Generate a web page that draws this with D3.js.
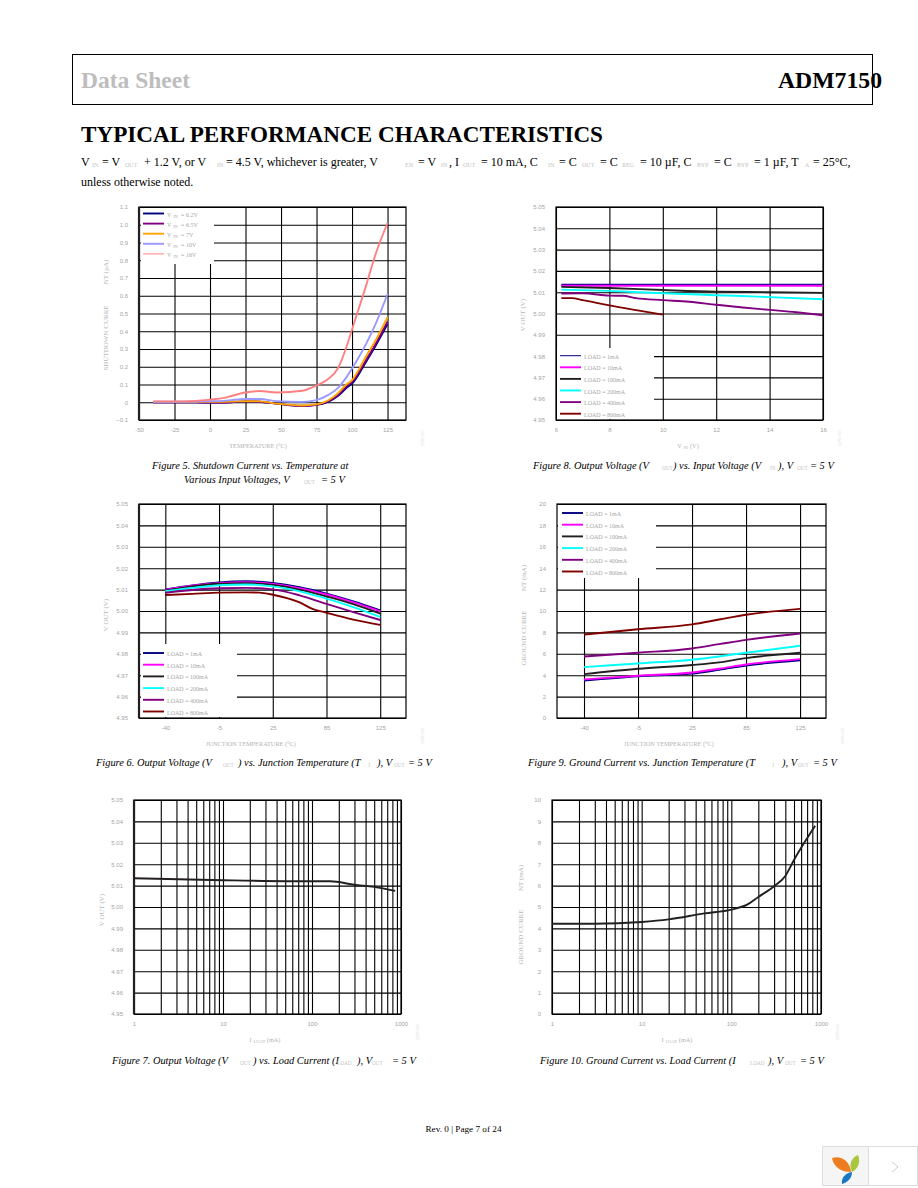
<!DOCTYPE html>
<html>
<head>
<meta charset="utf-8">
<title>ADM7150 Typical Performance Characteristics</title>
<script src="https://cdn.jsdelivr.net/npm/d3@7"></script>
<style>
  html, body { margin: 0; padding: 0; background: #fff; }
  svg { display: block; font-family: "Liberation Serif", serif; }
  .tick text { fill: #a4a4a4; font-size: 6px; }
  .axis-title { fill: #b4b4b4; font-size: 6.3px; }
  .axis-title.vertical { font-size: 7px; }
  .legend-text { fill: #a6a6a6; font-size: 6px; }
  .faint { fill: #c8c8c8; font-size: 5px; }
</style>
</head>
<body>
<svg id="page" width="918" height="1188"></svg>
<script>
// figure 5 - shutdown current vs temperature
var shutdownLabels = ['VIN = 6.2V', 'VIN = 6.5V', 'VIN = 7V', 'VIN = 10V', 'VIN = 16V'];
var shutdownTicksX = [-50, -25, 0, 25, 50, 75, 100, 125];
var shutdownTicksY = [-0.1, 0, 0.1, 0.2, 0.3, 0.4, 0.5, 0.6, 0.7, 0.8, 0.9, 1.0, 1.1];
var shutdownTemp = [-40, -25, -10, 0, 10, 15, 25, 35, 47, 65, 75, 83, 90, 96, 100, 110, 116, 125];
var shutdown62 = [0, 0, 0, -0.002, -0.002, 0, 0.005, 0.003, -0.008, -0.02, -0.015, 0.002, 0.035, 0.08, 0.105, 0.23, 0.31, 0.44];
var shutdown65 = [0, 0, 0, -0.002, -0.002, 0, 0.005, 0.003, -0.008, -0.022, -0.015, 0.005, 0.04, 0.09, 0.115, 0.24, 0.32, 0.455];
var shutdown7 = [0.002, 0.002, 0.002, 0.003, 0.003, 0.004, 0.006, 0.005, -0.008, -0.018, -0.012, 0.01, 0.05, 0.1, 0.125, 0.26, 0.34, 0.48];
var shutdown10 = [0.003, 0.003, 0.004, 0.006, 0.008, 0.012, 0.018, 0.018, 0.006, 0.002, 0.012, 0.04, 0.08, 0.14, 0.19, 0.33, 0.43, 0.61];
var shutdown16 = [0.005, 0.005, 0.008, 0.015, 0.025, 0.035, 0.055, 0.063, 0.055, 0.065, 0.095, 0.13, 0.19, 0.31, 0.41, 0.66, 0.82, 1.01];

// shared load legend and output voltage ticks
var loadLabels = ['LOAD = 1mA', 'LOAD = 10mA', 'LOAD = 100mA', 'LOAD = 200mA', 'LOAD = 400mA', 'LOAD = 800mA'];
var voutTicks = [4.95, 4.96, 4.97, 4.98, 4.99, 5.00, 5.01, 5.02, 5.03, 5.04, 5.05];

// figure 8 - output voltage vs input voltage
var vinTicks = [6, 8, 10, 12, 14, 16];
var vinSteps = [6.2, 8, 10, 12, 14, 16];
var vinDense = [6.2, 7, 8, 8.5, 9, 10, 11, 12, 13, 14, 15, 16];
var vinShort = [6.2, 6.6, 7, 8, 9, 10];
var voutVin1 = [5.0135, 5.0135, 5.0135, 5.0135, 5.0135, 5.0135];
var voutVin10 = [5.013, 5.013, 5.013, 5.013, 5.013, 5.013];
var voutVin100 = [5.0125, 5.012, 5.011, 5.0102, 5.01, 5.0097];
var voutVin200 = [5.0112, 5.0106, 5.0095, 5.0086, 5.0077, 5.0067];
var voutVin400 = [5.0094, 5.0095, 5.0084, 5.0083, 5.0072, 5.0063, 5.0055, 5.0041, 5.0028, 5.0017, 5.0006, 4.9992];
var voutVin800 = [5.0072, 5.0072, 5.0063, 5.0038, 5.0016, 4.9995];

// figure 6 - output voltage vs junction temperature
var junctionTicks = ['-40', '-5', '25', '85', '125'];
var junctionPos = [0, 0.5, 1, 1.5, 2, 2.5, 3, 3.5, 4];
var junctionPosRed = [0, 0.5, 1, 1.5, 1.75, 2, 2.5, 2.75, 3, 3.5, 4];
var voutTemp1 = [5.0101, 5.012, 5.0134, 5.0139, 5.0131, 5.0111, 5.0081, 5.0045, 5.0003];
var voutTemp10 = [5.0098, 5.0118, 5.013, 5.0134, 5.0127, 5.0107, 5.0077, 5.004, 4.9998];
var voutTemp100 = [5.0095, 5.0115, 5.0127, 5.013, 5.0122, 5.01, 5.0068, 5.0032, 4.9988];
var voutTemp200 = [5.0092, 5.0108, 5.012, 5.0124, 5.0115, 5.0092, 5.0058, 5.0018, 4.9972];
var voutTemp400 = [5.0085, 5.0098, 5.0106, 5.0108, 5.0101, 5.0073, 5.0033, 4.9995, 4.9958];
var voutTemp800 = [5.0075, 5.008, 5.0086, 5.0087, 5.0086, 5.0076, 5.004, 5.0009, 4.9992, 4.996, 4.9935];

// figure 9 - ground current vs junction temperature
var groundTicks = [0, 2, 4, 6, 8, 10, 12, 14, 16, 18, 20];
var junctionMain = [0, 1, 2, 2.5, 3, 4];
var groundTemp1 = [3.5, 3.9, 4.15, 4.5, 4.9, 5.4];
var groundTemp10 = [3.6, 3.95, 4.25, 4.6, 5.0, 5.5];
var groundTemp100 = [4.1, 4.6, 4.95, 5.2, 5.6, 6.1];
var groundTemp200 = [4.75, 5.1, 5.45, 5.75, 6.1, 6.75];
var groundTemp400 = [5.75, 6.1, 6.5, 6.9, 7.3, 7.9];
var groundTemp800 = [7.8, 8.3, 8.75, 9.2, 9.65, 10.2];

// figures 7 and 10 - load current sweeps
var loadTicks = [1, 10, 100, 1000];
var loadCurrent7 = [1, 10, 100, 160, 300, 500, 860];
var voutLoad = [5.0134, 5.0125, 5.012, 5.012, 5.0104, 5.0094, 5.0075];
var loadCurrent10 = [1, 3, 10, 20, 50, 100, 150, 200, 300, 400, 500, 650, 860];
var groundLoad = [4.22, 4.22, 4.3, 4.42, 4.7, 4.88, 5.11, 5.47, 5.97, 6.45, 7.2, 8.0, 8.8];
var groundLoadTicks = [0, 1, 2, 3, 4, 5, 6, 7, 8, 9, 10];

var navy = '#000080', magenta = '#ff00ff', black = '#231f20', cyan = '#00ffff', purple = '#800080', maroon = '#800000';

var svg = d3.select('#page');

function zipXY(xs, ys) {
    return xs.map(function(x, i) { return [x, ys[i]]; });
}

function drawPanel(opt) {
    var g = svg.append('g');
    var w = opt.right - opt.left, h = opt.bottom - opt.top;
    var x = opt.x.range([opt.left, opt.right]);
    var y = d3.scaleLinear().domain(opt.yDomain).range([opt.bottom, opt.top]);

    var xAxis = d3.axisBottom(x).tickValues(opt.xTicks).tickFormat(opt.xFormat)
        .tickSize(-h).tickPadding(8);
    var yAxis = d3.axisLeft(y).tickValues(opt.yTicks).tickFormat(opt.yFormat)
        .tickSize(-w).tickPadding(11);

    g.append('g').attr('transform', 'translate(0,' + opt.bottom + ')').call(xAxis)
        .call(function(a) { a.select('.domain').remove(); });
    g.append('g').attr('transform', 'translate(' + opt.left + ',0)').call(yAxis)
        .call(function(a) { a.select('.domain').remove(); });
    g.selectAll('.tick line').attr('stroke', '#000').attr('stroke-width', 1.1);

    // frame
    g.append('rect').attr('x', opt.left).attr('y', opt.top).attr('width', w).attr('height', h)
        .attr('fill', 'none').attr('stroke', '#000').attr('stroke-width', 1.2);
    if (opt.thickLeft) {
        g.append('line').attr('x1', opt.left).attr('x2', opt.left).attr('y1', opt.top).attr('y2', opt.bottom)
            .attr('stroke', '#231f20').attr('stroke-width', 2.2);
    }

    var line = d3.line().x(function(d) { return x(d[0]); }).y(function(d) { return y(d[1]); })
        .curve(d3.curveMonotoneX);
    g.selectAll('path.series').data(opt.series).enter().append('path')
        .attr('class', 'series')
        .attr('fill', 'none')
        .attr('stroke', function(d) { return d.color; })
        .attr('stroke-width', 1.9)
        .attr('stroke-linejoin', 'round')
        .attr('d', function(d) { return line(zipXY(d.xs, d.ys)); });

    if (opt.legend) {
        var lg = opt.legend;
        g.append('rect').attr('x', lg.x0).attr('y', lg.y0).attr('width', lg.x1 - lg.x0).attr('height', lg.y1 - lg.y0)
            .attr('fill', '#fff');
        var rows = g.selectAll('g.row').data(opt.legendLabels).enter().append('g').attr('class', 'row')
            .attr('transform', function(d, i) { return 'translate(' + lg.lineX + ',' + (lg.firstY + i * lg.stepY) + ')'; });
        rows.append('line').attr('x1', 0).attr('x2', 21)
            .attr('stroke', function(d, i) { return opt.series[i].color; })
            .attr('stroke-width', function(d, i) { return lg.thin && lg.thin.indexOf(i) >= 0 ? 1 : 1.9; });
        rows.append('text').attr('class', 'legend-text').attr('x', 24).attr('y', 3)
            .each(function(d) {
                var t = d3.select(this);
                if (d.indexOf('VIN') === 0) {
                    t.append('tspan').text('V');
                    t.append('tspan').attr('dx', 2).attr('font-size', 4).attr('dy', 1).text('IN');
                    t.append('tspan').attr('dx', 2).attr('dy', -1).text(d.slice(3));
                } else {
                    t.text(d);
                }
            });
    }

    // axis titles
    opt.xTitle(g.append('text').attr('class', 'axis-title').attr('text-anchor', 'middle')
        .attr('x', opt.xTitleX).attr('y', opt.bottom + 28));
    opt.yTitle.forEach(function(p) {
        g.append('text').attr('class', 'axis-title vertical').attr('text-anchor', 'middle')
            .attr('transform', 'translate(' + opt.yTitleX + ',' + p[1] + ') rotate(-90)')
            .text(p[0]);
    });

    // part number stub beside each plot
    g.append('text').attr('class', 'faint')
        .attr('transform', 'translate(' + (opt.right + 18) + ',' + (opt.bottom + 27) + ') rotate(-90)')
        .style('font-size', '4px').style('fill', '#dcdcdc').text('12285-005');
}

function subTitle(main, sub, tail) {
    return function(t) {
        t.append('tspan').text(main);
        t.append('tspan').attr('dx', 2).attr('dy', 1).style('font-size', '4px').text(sub);
        t.append('tspan').attr('dx', 2).attr('dy', -1).text(tail);
    };
}
function plainTitle(s) { return function(t) { t.text(s); }; }

var fmt2 = d3.format('.2f');
var fmt1 = function(v) { return v === 0 ? '0' : d3.format('.1f')(v); };
var fmtPlain = function(v) { return String(v); };

drawPanel({
    left: 139, right: 406, top: 207, bottom: 420, thickLeft: true,
    x: d3.scaleLinear().domain([-50, 138]), xTicks: shutdownTicksX, xFormat: fmtPlain,
    yDomain: [-0.1, 1.1], yTicks: shutdownTicksY, yFormat: fmt1,
    series: [
        {color: navy, xs: shutdownTemp, ys: shutdown62},
        {color: purple, xs: shutdownTemp, ys: shutdown65},
        {color: '#ffa500', xs: shutdownTemp, ys: shutdown7},
        {color: '#9999ff', xs: shutdownTemp, ys: shutdown10},
        {color: '#ff8080', xs: shutdownTemp, ys: shutdown16}
    ],
    legendLabels: shutdownLabels,
    legend: {x0: 141, x1: 214, y0: 208, y1: 264, lineX: 143, firstY: 213.5, stepY: 10.1, thin: [4]},
    xTitle: plainTitle('TEMPERATURE (°C)'), xTitleX: 258,
    yTitle: [['SHUTDOWN CURRE', 338], ['NT (µA)', 272]], yTitleX: 108
});

drawPanel({
    left: 556, right: 823, top: 207, bottom: 420,
    x: d3.scaleLinear().domain([6, 16]), xTicks: vinTicks, xFormat: fmtPlain,
    yDomain: [4.95, 5.05], yTicks: voutTicks, yFormat: fmt2,
    series: [
        {color: navy, xs: vinSteps, ys: voutVin1},
        {color: magenta, xs: vinSteps, ys: voutVin10},
        {color: black, xs: vinSteps, ys: voutVin100},
        {color: cyan, xs: vinSteps, ys: voutVin200},
        {color: purple, xs: vinDense, ys: voutVin400},
        {color: maroon, xs: vinShort, ys: voutVin800}
    ],
    legendLabels: loadLabels,
    legend: {x0: 557, x1: 654, y0: 348, y1: 419, lineX: 560, firstY: 355.7, stepY: 11.6, thin: [0]},
    xTitle: subTitle('V', 'IN', '(V)'), xTitleX: 688,
    yTitle: [['V OUT (V)', 315]], yTitleX: 525
});

drawPanel({
    left: 139, right: 406, top: 504, bottom: 718, thickLeft: true,
    x: d3.scaleLinear().domain([-0.49, 4.48]), xTicks: [0, 1, 2, 3, 4], xFormat: function(i) { return junctionTicks[i]; },
    yDomain: [4.95, 5.05], yTicks: voutTicks, yFormat: fmt2,
    series: [
        {color: navy, xs: junctionPos, ys: voutTemp1},
        {color: magenta, xs: junctionPos, ys: voutTemp10},
        {color: black, xs: junctionPos, ys: voutTemp100},
        {color: cyan, xs: junctionPos, ys: voutTemp200},
        {color: purple, xs: junctionPos, ys: voutTemp400},
        {color: maroon, xs: junctionPosRed, ys: voutTemp800}
    ],
    legendLabels: loadLabels,
    legend: {x0: 141, x1: 237, y0: 644, y1: 717, lineX: 143, firstY: 653, stepY: 11.7},
    xTitle: plainTitle('JUNCTION TEMPERATURE (°C)'), xTitleX: 251,
    yTitle: [['V OUT (V)', 615]], yTitleX: 108
});

drawPanel({
    left: 557, right: 826, top: 504, bottom: 718,
    x: d3.scaleLinear().domain([-0.5, 4.48]), xTicks: [0, 1, 2, 3, 4], xFormat: function(i) { return junctionTicks[i]; },
    yDomain: [0, 20], yTicks: groundTicks, yFormat: fmtPlain,
    series: [
        {color: navy, xs: junctionMain, ys: groundTemp1},
        {color: magenta, xs: junctionMain, ys: groundTemp10},
        {color: black, xs: junctionMain, ys: groundTemp100},
        {color: cyan, xs: junctionMain, ys: groundTemp200},
        {color: purple, xs: junctionMain, ys: groundTemp400},
        {color: maroon, xs: junctionMain, ys: groundTemp800}
    ],
    legendLabels: loadLabels,
    legend: {x0: 558, x1: 656, y0: 505, y1: 578, lineX: 562, firstY: 513, stepY: 11.7},
    xTitle: plainTitle('JUNCTION TEMPERATURE (°C)'), xTitleX: 669,
    yTitle: [['GROUND CURRE', 638], ['NT (mA)', 578]], yTitleX: 526
});

drawPanel({
    left: 134, right: 401, top: 800, bottom: 1014, thickLeft: true,
    x: d3.scaleLog().domain([1, 1000]), xTicks: d3.scaleLog().domain([1, 1000]).ticks(), xFormat: function(v) { return loadTicks.indexOf(v) >= 0 ? v : ''; },
    yDomain: [4.95, 5.05], yTicks: voutTicks, yFormat: fmt2,
    series: [{color: black, xs: loadCurrent7, ys: voutLoad}],
    xTitle: subTitle('I', 'LOAD', '(mA)'), xTitleX: 265,
    yTitle: [['V OUT (V)', 910]], yTitleX: 104
});

drawPanel({
    left: 552, right: 821, top: 800, bottom: 1014,
    x: d3.scaleLog().domain([1, 1000]), xTicks: d3.scaleLog().domain([1, 1000]).ticks(), xFormat: function(v) { return loadTicks.indexOf(v) >= 0 ? v : ''; },
    yDomain: [0, 10], yTicks: groundLoadTicks, yFormat: fmtPlain,
    series: [{color: black, xs: loadCurrent10, ys: groundLoad}],
    xTitle: subTitle('I', 'LOAD', '(mA)'), xTitleX: 677,
    yTitle: [['GROUND CURRE', 937], ['NT (mA)', 878]], yTitleX: 523
});

// page furniture
svg.append('rect').attr('x', 72.5).attr('y', 54.5).attr('width', 800).attr('height', 50)
    .attr('fill', 'none').attr('stroke', '#000').attr('stroke-width', 1);
svg.append('text').attr('x', 81).attr('y', 88).attr('font-size', 23).attr('font-weight', 'bold')
    .attr('fill', '#bdbdbd').attr('textLength', 109).attr('lengthAdjust', 'spacingAndGlyphs').text('Data Sheet');
svg.append('text').attr('x', 778).attr('y', 88).attr('font-size', 23)
    .attr('font-weight', 'bold').attr('fill', '#000').attr('textLength', 104).attr('lengthAdjust', 'spacingAndGlyphs').text('ADM7150');
svg.append('text').attr('x', 81).attr('y', 142).attr('font-size', 23).attr('font-weight', 'bold')
    .attr('fill', '#000').attr('textLength', 522).attr('lengthAdjust', 'spacingAndGlyphs').text('TYPICAL PERFORMANCE CHARACTERISTICS');

function pieces(y, size, style, list) {
    list.forEach(function(p) {
        var isFaint = p[2] === 1;
        svg.append('text').attr('x', p[1]).attr('y', isFaint ? y + 1 : y)
            .attr('font-size', isFaint ? size * 0.5 : size)
            .attr('font-style', isFaint ? 'normal' : style)
            .attr('fill', isFaint ? '#c4c4c4' : '#000')
            .text(p[0]);
    });
}

pieces(166, 12, 'normal', [
    ['V', 81], ['IN', 92, 1], ['= V', 102], ['OUT', 125, 1], ['+ 1.2 V, or V', 144], ['IN', 217, 1],
    ['= 4.5 V, whichever is greater, V', 226], ['EN', 405, 1], ['= V', 418], ['IN', 441, 1], [', I', 449], ['OUT', 463, 1],
    ['= 10 mA, C', 481], ['IN', 548, 1], ['= C', 559], ['OUT', 582, 1], ['= C', 600], ['REG', 622, 1],
    ['= 10 µF, C', 640], ['BYP', 697, 1], ['= C', 714], ['BYP', 737, 1], ['= 1 µF, T', 754], ['A', 805, 1], ['= 25°C,', 813]
]);
pieces(186, 12, 'normal', [['unless otherwise noted.', 81]]);

pieces(469, 10.4, 'italic', [['Figure 5. Shutdown Current vs. Temperature at', 152]]);
pieces(483, 10.4, 'italic', [['Various Input Voltages, V', 184], ['OUT', 304, 1], ['= 5 V', 321]]);
pieces(766, 10.4, 'italic', [['Figure 6. Output Voltage (V', 96], ['OUT', 223, 1], [') vs. Junction Temperature (T', 238], ['J', 368, 1], ['), V', 377], ['OUT', 394, 1], ['= 5 V', 408]]);
pieces(469, 10.4, 'italic', [['Figure 8. Output Voltage (V', 533], ['OUT', 662, 1], [') vs. Input Voltage (V', 673], ['IN', 770, 1], ['), V', 778], ['OUT', 797, 1], ['= 5 V', 810]]);
pieces(766, 10.4, 'italic', [['Figure 9. Ground Current vs. Junction Temperature (T', 528], ['J', 772, 1], ['), V', 782], ['OUT', 798, 1], ['= 5 V', 813]]);
pieces(1064, 10.4, 'italic', [['Figure 7. Output Voltage (V', 112], ['OUT', 240, 1], [') vs. Load Current (I', 253], ['LOAD', 337, 1], ['), V', 357], ['OUT', 372, 1], ['= 5 V', 392]]);
pieces(1064, 10.4, 'italic', [['Figure 10. Ground Current vs. Load Current (I', 540], ['LOAD', 750, 1], ['), V', 768], ['OUT', 785, 1], ['= 5 V', 800]]);

svg.append('text').attr('x', 463.5).attr('y', 1132).attr('text-anchor', 'middle').attr('font-size', 9.2)
    .attr('fill', '#000').text('Rev. 0 | Page 7 of 24');

// badge in the corner
var badge = svg.append('g');
badge.append('rect').attr('x', 822.5).attr('y', 1146.5).attr('width', 46).attr('height', 39).attr('fill', '#f5f5f5').attr('stroke', '#ddd');
badge.append('rect').attr('x', 868.5).attr('y', 1146.5).attr('width', 49).attr('height', 39).attr('fill', '#fff').attr('stroke', '#ddd');
badge.append('path').attr('d', 'M832 1158 C840 1155 850 1160 851 1172 C842 1172 834 1168 832 1158Z').attr('fill', '#ee7d22');
badge.append('path').attr('d', 'M852 1172 C848 1164 852 1157 858 1155 C861 1162 858 1169 852 1172Z').attr('fill', '#a9c63c');
badge.append('path').attr('d', 'M852 1172 C852 1178 848 1182 842 1184 C841 1178 845 1173 852 1172Z').attr('fill', '#1a78c2');
badge.append('path').attr('d', 'M892 1162 L898 1167 L892 1172').attr('fill', 'none').attr('stroke', '#ccc');
</script>
</body>
</html>
